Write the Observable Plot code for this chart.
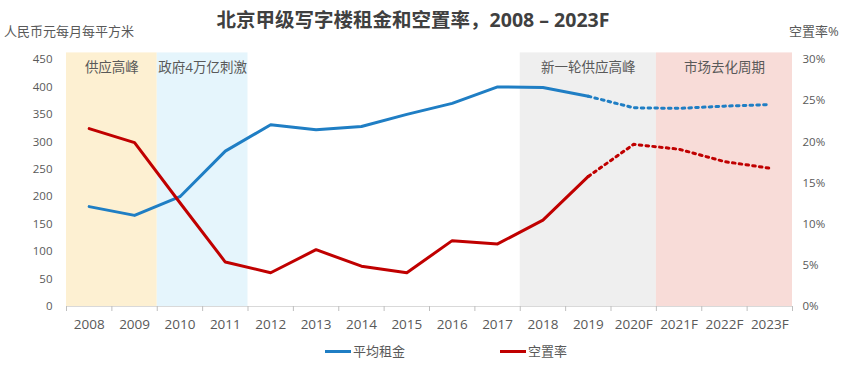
<!DOCTYPE html>
<html>
<head>
<meta charset="utf-8">
<script src="https://cdn.jsdelivr.net/npm/d3@7"></script>
<script src="https://cdn.jsdelivr.net/npm/@observablehq/plot@0.6"></script>
<style>
  body { margin: 0; background: #fff; }
  #wrap { position: relative; width: 862px; height: 374px; overflow: hidden;
          font-family: "Open Sans", "Noto Sans CJK SC", sans-serif; color: #595959; }
  #chart { position: absolute; left: 0; top: 0; }
  .abs { position: absolute; white-space: nowrap; line-height: 1; }
  #title { left: 0; width: 826px; text-align: center; top: 10px; font-size: 19.5px; font-weight: bold; color: #404040; }
  #ylab { left: 4px; top: 25px; font-size: 13px; }
  #y2lab { left: 789px; top: 25px; font-size: 13px; }
  .leg { top: 345px; font-size: 13px; display: flex; align-items: center; }
  .leg span.sw { display: inline-block; width: 26px; height: 3px; margin-right: 2px; }
</style>
</head>
<body>
<div id="wrap">
  <div id="chart"></div>
  <div id="title" class="abs">北京甲级写字楼租金和空置率，2008 – 2023F</div>
  <div id="ylab" class="abs">人民币元每月每平方米</div>
  <div id="y2lab" class="abs">空置率%</div>
  <div id="leg1" class="abs leg" style="left:325px"><span class="sw" style="background:#1f7ec4"></span>平均租金</div>
  <div id="leg2" class="abs leg" style="left:500px"><span class="sw" style="background:#c00000"></span>空置率</div>
</div>
<script>
const years = ["2008","2009","2010","2011","2012","2013","2014","2015","2016","2017","2018","2019","2020F","2021F","2022F","2023F"];
const rent = [182,166,200,283,331,322,328,350,370,400,399,383,362,361,365,368];
const vacancy = [21.6,19.9,12.6,5.4,4.1,6.9,4.9,4.1,8.0,7.6,10.5,15.8,19.7,19.1,17.6,16.8];
const leftTicks = [0,50,100,150,200,250,300,350,400,450];
const rightTicks = [0,5,10,15,20,25,30];
const phaseLabels = ["供应高峰","政府4万亿刺激","新一轮供应高峰","市场去化周期"];
const phaseStart = ["2008","2010","2018","2021F"];
const phaseEnd = ["2009","2011","2020F","2023F"];
const lastActual = "2019";

const phaseColors = ["#fdf0d2","#e5f5fc","#efefef","#f8dcd8"];
const ratio = 15; // 30% on right axis == 450 on left axis
const blue = "#1f7ec4", red = "#c00000";

const idx = y => years.indexOf(y);
const cut = idx(lastActual);
const pts = years.map((y, i) => ({i, year: y, rent: rent[i], vac: vacancy[i] * ratio}));
const actual = pts.filter(d => d.i <= cut);
const forecast = pts.filter(d => d.i >= cut);
const phases = phaseLabels.map((l, k) => ({label: l, x1: idx(phaseStart[k]) - 0.5, x2: idx(phaseEnd[k]) + 0.5, xm: (idx(phaseStart[k]) + idx(phaseEnd[k])) / 2, color: phaseColors[k]}));
const boundaries = d3.range(years.length + 1).map(k => k - 0.5);

const plot = Plot.plot({
  width: 862,
  height: 374,
  marginTop: 59,
  marginBottom: 68,
  marginLeft: 66,
  marginRight: 70,
  style: {fontFamily: '"Open Sans", "Noto Sans CJK SC", sans-serif', color: "#595959", background: "transparent"},
  x: {type: "linear", domain: [-0.5, years.length - 0.5]},
  y: {domain: [0, 450]},
  marks: [
    Plot.rect(phases, {x1: "x1", x2: "x2", y1: 0, y2: 462, fill: "color"}),
    Plot.text(phases, {x: "xm", y: 450, dy: 8, text: "label", fill: "#595959", fontSize: 13.5}),
    Plot.ruleY([0], {stroke: "#d9d9d9"}),
    Plot.axisX(boundaries, {tickSize: 5, tickFormat: () => "", stroke: "#bfbfbf", label: null}),
    Plot.axisX(d3.range(years.length), {tickSize: 0, tickPadding: 13, tickFormat: i => years[i], fontSize: 13.5, fill: "#595959", label: null}),
    Plot.axisY(leftTicks, {anchor: "left", tickSize: 0, tickPadding: 14, fontSize: 11.5, fill: "#595959", label: null}),
    Plot.axisY(rightTicks.map(d => d * ratio), {anchor: "right", tickSize: 0, tickPadding: 10, tickFormat: d => (d / ratio) + "%", fontSize: 11.5, fill: "#595959", label: null}),
    Plot.line(actual, {x: "i", y: "rent", stroke: blue, strokeWidth: 3}),
    Plot.line(forecast, {x: "i", y: "rent", stroke: blue, strokeWidth: 3, strokeDasharray: "2.6 4.2"}),
    Plot.line(actual, {x: "i", y: "vac", stroke: red, strokeWidth: 3}),
    Plot.line(forecast, {x: "i", y: "vac", stroke: red, strokeWidth: 3, strokeDasharray: "2.6 4.2"})
  ]
});
document.getElementById("chart").appendChild(plot);
</script>
</body>
</html>
